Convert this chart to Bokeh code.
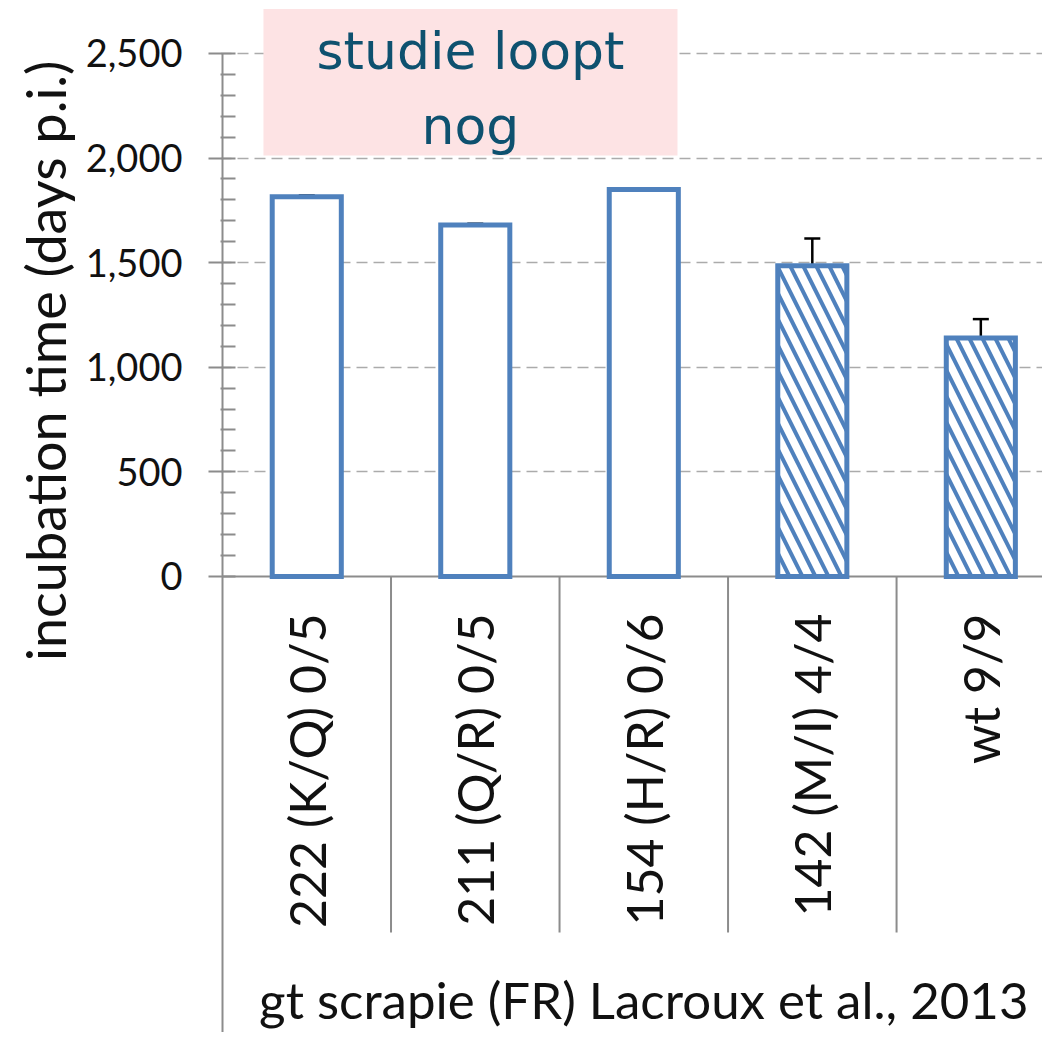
import math
from bokeh.plotting import figure
from bokeh.models import (Range1d, FixedTicker, NumeralTickFormatter, ColumnDataSource,
                          Whisker, TeeHead, Title)
from bokeh.core.properties import value
from bokeh.embed import file_html
from bokeh.resources import INLINE

# ---------------- data ----------------
categories = ["222 (K/Q) 0/5", "211 (Q/R) 0/5", "154 (H/R) 0/6", "142 (M/I) 4/4", "wt 9/9"]
incubation = [1815, 1680, 1850, 1485, 1140]
error_up = [6, 6, 6, 130, 90]
positive = [False, False, False, True, True]
y_ticks = [0, 500, 1000, 1500, 2000, 2500]
y_minor = [v for v in range(0, 2600, 100) if v % 500 != 0]
y_label = "incubation time (days p.i.)"
caption = "gt scrapie (FR) Lacroux et al., 2013"
note = "studie loopt\nnog"

# ---------------- styling ----------------
BLUE = "#4F81BD"
GRAY = "#8C8C8C"
FONT = "Lato"
Y_LO, Y_HI = -2180, 2753
NOTE_BOX = dict(left=0.243, right=2.70, bottom=2012, top=2712)
NOTE_TEXT_Y = 2330
LABEL_Y = -177          # top end of the rotated category labels
SEP_BOTTOM = -1702      # lower end of category separators
CAPTION_Y = -2022       # caption centre

n = len(categories)
xc = [i + 0.5 for i in range(n)]

p = figure(width=1042, height=1032, output_backend="svg", toolbar_location=None,
           x_range=Range1d(-0.0119, 4.866), y_range=Range1d(Y_LO, Y_HI),
           x_axis_location=None, min_border_left=220, min_border_right=0,
           min_border_top=0, min_border_bottom=0)
p.outline_line_color = None
p.xgrid.grid_line_color = None

# y axis
ax = p.yaxis[0]
ax.ticker = FixedTicker(ticks=y_ticks, minor_ticks=y_minor)
ax.formatter = NumeralTickFormatter(format="0,0")
ax.axis_line_color = None
ax.major_tick_out = 12
ax.major_tick_in = 15
ax.minor_tick_out = 0
ax.minor_tick_in = 15
ax.major_tick_line_color = GRAY
ax.minor_tick_line_color = GRAY
ax.major_tick_line_width = 2
ax.minor_tick_line_width = 2
ax.major_label_standoff = 26
ax.major_label_text_font = FONT
ax.major_label_text_font_size = "38px"
ax.major_label_text_color = "#111111"

p.ygrid.ticker = FixedTicker(ticks=y_ticks[1:])
p.ygrid.grid_line_color = "#ABABAB"
p.ygrid.grid_line_width = 1.6
p.ygrid.grid_line_dash = "11 6"

p.add_layout(Title(text=y_label, align="right", offset=60, text_font=FONT,
                   text_font_size="54px", text_font_style="normal",
                   text_color="#111111"), "left")

# axis / category frame lines
p.segment(x0=[0], y0=[y_ticks[-1]], x1=[0], y1=[Y_LO], line_color=GRAY, line_width=2)
p.segment(x0=[0], y0=[0], x1=[n], y1=[0], line_color=GRAY, line_width=2)
p.segment(x0=list(range(1, n)), y0=[0] * (n - 1), x1=list(range(1, n)),
          y1=[SEP_BOTTOM] * (n - 1), line_color=GRAY, line_width=2)

# bars
src = ColumnDataSource(dict(
    x=xc, top=incubation,
    hatch=["\\" if h else " " for h in positive],
    lower=incubation,
    upper=[v + e for v, e in zip(incubation, error_up)],
    label=categories,
    ly=[LABEL_Y] * n,
))
p.vbar(x="x", top="top", bottom=0, width=0.41, source=src,
       fill_color="white", line_color=BLUE, line_width=5, line_join="miter",
       hatch_pattern="hatch", hatch_color=BLUE, hatch_scale=26, hatch_weight=4)

w = Whisker(base="x", lower="lower", upper="upper", source=src, dimension="height",
            line_color="black", line_width=2.5, lower_head=None,
            upper_head=TeeHead(size=16, line_color="black", line_width=2.5))
p.add_layout(w)

# category labels
p.text(x="x", y="ly", text="label", source=src, angle=math.pi / 2,
       text_align="right", text_baseline="middle", text_font=value(FONT),
       text_font_size="50px", text_color="#111111")

# caption
p.text(x=[n / 2], y=[CAPTION_Y], text=[caption], text_align="center",
       text_baseline="middle", text_font=value(FONT), text_font_size="51px",
       text_color="#111111")

# note box
p.quad(left=[NOTE_BOX["left"]], right=[NOTE_BOX["right"]], bottom=[NOTE_BOX["bottom"]],
       top=[NOTE_BOX["top"]], fill_color="#FDE3E4", line_color=None)
p.text(x=[(NOTE_BOX["left"] + NOTE_BOX["right"]) / 2], y=[NOTE_TEXT_Y], text=[note],
       text_align="center", text_baseline="middle", text_font=value("DejaVu Sans"),
       text_font_size="52px", text_color="#0E516F", text_line_height=1.25)

open("out.html", "w").write(file_html(p, INLINE))
